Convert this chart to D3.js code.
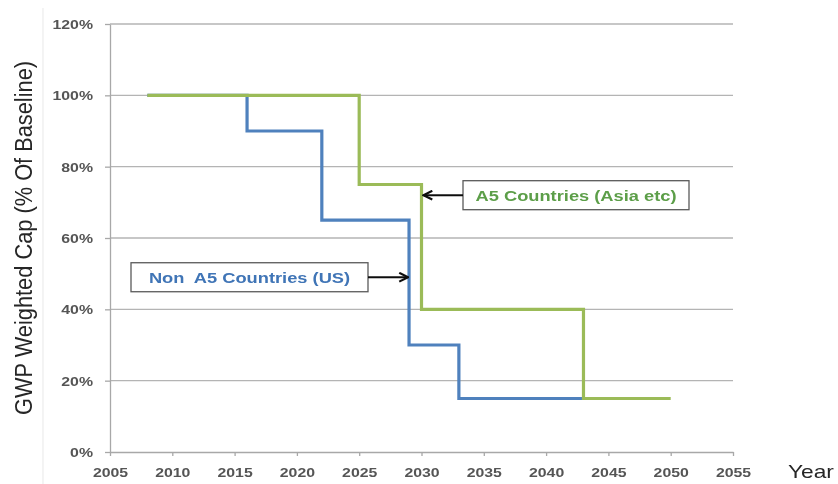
<!DOCTYPE html>
<html>
<head>
<meta charset="utf-8">
<script src="https://cdn.jsdelivr.net/npm/d3@7"></script>
<style>
  html, body { margin: 0; padding: 0; background: #fff; }
  svg { display: block; }
  text { font-family: "Liberation Sans", Arial, sans-serif; white-space: pre; }
</style>
</head>
<body>
<script>
// Step schedules: each value holds from its year until the next listed year
const nonA5Years  = [2008, 2016, 2022, 2029, 2033, 2043];
const nonA5Values = [100, 90, 65, 30, 15, 15];
const a5Years     = [2008, 2025, 2030, 2043, 2050];
const a5Values    = [100, 75, 40, 15, 15];

const xTicks = [2005, 2010, 2015, 2020, 2025, 2030, 2035, 2040, 2045, 2050, 2055];
const yTicks = [0, 20, 40, 60, 80, 100, 120];

const W = 838, H = 484;
const stretch = 1.3;           // glyphs are set wide, as on the original slide

const svg = d3.select("body").append("svg")
  .attr("width", W).attr("height", H);

// slight softening of the whole drawing
svg.append("defs").append("filter")
  .attr("id", "soft")
  .append("feGaussianBlur").attr("stdDeviation", 0.35);

const root = svg.append("g").attr("filter", "url(#soft)");

const x = d3.scaleLinear().domain([2005, 2055]).range([110, 733]);
const y = d3.scaleLinear().domain([0, 120]).range([452, 24]);

// faint slide border on the left
root.append("line")
  .attr("x1", 43).attr("x2", 43).attr("y1", 8).attr("y2", H)
  .attr("stroke", "#ececec").attr("stroke-width", 1.2);

// horizontal gridlines
root.append("g")
  .selectAll("line")
  .data(yTicks.filter(d => d > 0))
  .join("line")
  .attr("x1", x(2005)).attr("x2", x(2055))
  .attr("y1", d => y(d)).attr("y2", d => y(d))
  .attr("stroke", "#b4b4b4").attr("stroke-width", 1.3);

// y axis
const yAxis = root.append("g")
  .attr("transform", `translate(${x(2005)},0)`)
  .call(d3.axisLeft(y).tickValues(yTicks).tickSize(5).tickSizeOuter(0)
    .tickFormat(d => d + "%"));
yAxis.select(".domain").attr("stroke", "#a8a8a8").attr("stroke-width", 1.3);
yAxis.selectAll(".tick line").attr("stroke", "#a8a8a8").attr("stroke-width", 1.3);
yAxis.selectAll(".tick text")
  .attr("x", 0).attr("dy", "0.36em")
  .attr("transform", `translate(-17,0) scale(${stretch},1)`)
  .attr("text-anchor", "end")
  .attr("fill", "#555")
  .attr("font-size", 12.2).attr("font-weight", "bold");

// x axis
const xAxis = root.append("g")
  .attr("transform", `translate(0,${y(0)})`)
  .call(d3.axisBottom(x).tickValues(xTicks).tickSize(4).tickSizeOuter(0)
    .tickFormat(d3.format("d")));
xAxis.select(".domain").attr("stroke", "#a8a8a8").attr("stroke-width", 1.3);
xAxis.selectAll(".tick line").attr("stroke", "#a8a8a8").attr("stroke-width", 1.3);
xAxis.selectAll(".tick text")
  .attr("y", 0).attr("dy", "0.36em")
  .attr("transform", `translate(0,21) scale(${stretch},1)`)
  .attr("fill", "#555")
  .attr("font-size", 12.2).attr("font-weight", "bold");

// step lines
const step = d3.line()
  .x(d => x(d[0])).y(d => y(d[1]))
  .curve(d3.curveStepAfter);

root.append("path")
  .datum(d3.zip(nonA5Years, nonA5Values))
  .attr("d", step)
  .attr("fill", "none").attr("stroke", "#4f81bd").attr("stroke-width", 3.2);

root.append("path")
  .datum(d3.zip(a5Years, a5Values))
  .attr("d", step)
  .attr("fill", "none").attr("stroke", "#9bbb59").attr("stroke-width", 3.2);

// axis titles
root.append("text")
  .attr("transform", `translate(32,238) rotate(-90) scale(1,1.1)`)
  .attr("text-anchor", "middle")
  .attr("font-size", 21.8)
  .attr("fill", "#262626")
  .text("GWP Weighted Cap (% Of Baseline)");

root.append("text")
  .attr("transform", `translate(788,478) scale(${stretch},1)`)
  .attr("font-size", 17.5)
  .attr("fill", "#262626")
  .text("Year");

// arrow marker
svg.select("defs").append("marker")
  .attr("id", "chev")
  .attr("viewBox", "0 0 10 10")
  .attr("refX", 9).attr("refY", 5)
  .attr("markerWidth", 11).attr("markerHeight", 11)
  .attr("markerUnits", "userSpaceOnUse")
  .attr("orient", "auto")
  .append("path")
  .attr("d", "M1,1 L9,5 L1,9")
  .attr("fill", "none").attr("stroke", "#111").attr("stroke-width", 2);

// callouts: label box plus arrow pointing at the matching step line
function callout(label, color, tipYear, tipValue, boxX, boxW, side) {
  const tx = x(tipYear) + (side === "right" ? 2 : -1);
  const ty = y(tipValue);
  const bx = boxX, bw = boxW, bh = 29;
  const g = root.append("g");
  g.append("rect")
    .attr("x", bx).attr("y", ty - bh / 2)
    .attr("width", bw).attr("height", bh)
    .attr("fill", "#fff").attr("stroke", "#5a5a5a").attr("stroke-width", 1.3);
  g.append("text")
    .attr("transform", `translate(${bx + bw / 2},${ty + 5.5}) scale(1.27,1)`)
    .attr("text-anchor", "middle")
    .attr("font-size", 14.4).attr("font-weight", "bold")
    .attr("fill", color)
    .text(label);
  const fromX = side === "right" ? bx : bx + bw;
  g.append("line")
    .attr("x1", fromX).attr("y1", ty)
    .attr("x2", tx).attr("y2", ty)
    .attr("stroke", "#111").attr("stroke-width", 2)
    .attr("marker-end", "url(#chev)");
}

callout("A5 Countries (Asia etc)", "#5c9e48", 2030, 72, 463, 226, "right");
callout("Non  A5 Countries (US)", "#3f74b6", 2029, 49, 131, 237, "left");
</script>
</body>
</html>
